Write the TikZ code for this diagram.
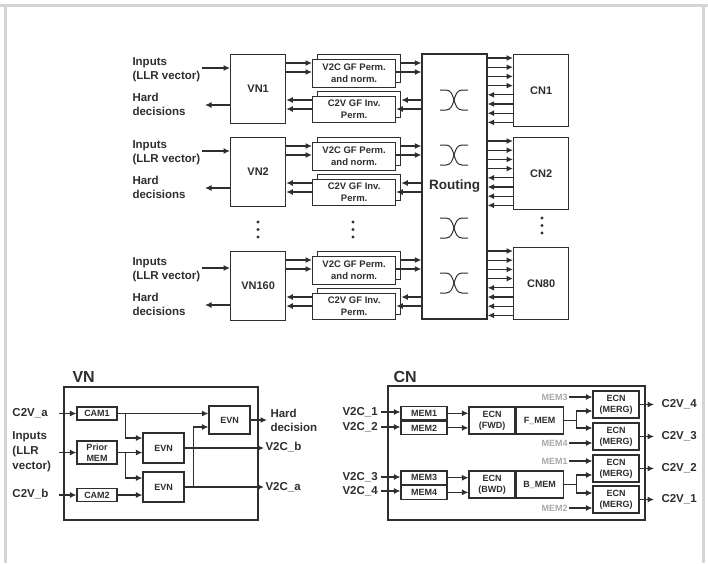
\documentclass[tikz,border=0pt]{standalone}
\usepackage{fontspec}
\setmainfont{Liberation Sans}
\usetikzlibrary{arrows.meta,positioning,calc}
\definecolor{ink}{HTML}{2E2E2E}
\definecolor{rim}{HTML}{D5D5D5}
\definecolor{pale}{HTML}{A9A9A9}

\begin{document}
\begin{tikzpicture}[
    x=1pt, y=-1pt,
    >={Latex[length=6.5pt,width=6pt]},
    color=ink, line width=1pt,
    wire/.style={->, draw=ink, line width=1.2pt},
    box/.style={draw=ink, line width=1.3pt, fill=white, inner sep=0pt, align=center,
                font=\bfseries\fontsize{11}{13}\selectfont},
    perm/.style={box, minimum width=83pt, font=\bfseries\fontsize{9.5}{12}\selectfont},
    small/.style={box, line width=1.1pt, font=\bfseries\fontsize{9}{11}\selectfont},
    frame/.style={draw=ink, line width=2pt, inner sep=0pt},
    lbl/.style={font=\bfseries\fontsize{11.5}{14}\selectfont, align=left, inner sep=1pt},
    title/.style={font=\bfseries\fontsize{16}{18}\selectfont, inner sep=0pt},
    ghost/.style={text=pale, font=\bfseries\fontsize{9}{11}\selectfont, inner sep=1pt}
  ]
  \useasboundingbox (0,0) rectangle (708,563);

  %% grey rim of the figure
  \draw[rim, line width=3.5pt] (0,5.5) -- (708,5.5);
  \draw[rim, line width=3.5pt] (5.3,5.5) -- (5.3,563);
  \draw[rim, line width=3.5pt] (703.5,5.5) -- (703.5,563);

  %% Routing network
  \node (routing) [box, minimum width=65pt, minimum height=265pt,
                   font=\bfseries\fontsize{13.5}{15}\selectfont] at (454.5,186.5) {Routing};
  \foreach \y in {100,155,228,283}{
    \draw (440,\y-10) -- (446,\y-10) to[out=0,in=180] (462,\y+10) -- (468,\y+10);
    \draw (440,\y+10) -- (446,\y+10) to[out=0,in=180] (462,\y-10) -- (468,\y-10);
  }

  %% Variable node rows with permutation blocks
  \foreach \r/\t/\l/\n in {1/54/0/VN1, 2/137/0/VN2, 3/251/3/VN160}{
    \node (vn\r) [box, minimum width=55pt, minimum height=69pt, anchor=north west] at (230,\t) {\n};
    \node (v2cb\r) [perm, minimum height=28pt, anchor=north west] at (317,\t) {};
    \node (v2c\r)  [perm, minimum height=28pt, anchor=north west] at (312,\t+5) {V2C GF Perm.\\and norm.};
    \node (c2vb\r) [perm, minimum height=26pt, anchor=north west] at (317,\t+37) {};
    \node (c2v\r)  [perm, minimum height=26pt, anchor=north west] at (312,\t+42) {C2V GF Inv.\\Perm.};
    \node (inp\r) [lbl, anchor=west] at (131,\t+16+\l)   {Inputs\\(LLR vector)};
    \node (hd\r)  [lbl, anchor=west] at (131,\t+50.5+\l) {Hard\\decisions};
    \coordinate (ini\r) at (202,\t+14+\l);
    \coordinate (hdo\r) at (205,\t+51+\l);
    \draw[wire] (ini\r) -- (ini\r -| vn\r.west);
    \draw[wire] (vn\r.west |- hdo\r) -- (hdo\r);
    \draw[wire] (vn\r.east |- 0,\t+9)  -- (v2c\r.west |- 0,\t+9);
    \draw[wire] (vn\r.east |- 0,\t+18) -- (v2c\r.west |- 0,\t+18);
    \draw[wire] (v2cb\r.east |- 0,\t+9) -- (routing.west |- 0,\t+9);
    \draw[wire] (v2c\r.east |- 0,\t+18) -- (routing.west |- 0,\t+18);
    \draw[wire] (routing.west |- 0,\t+46) -- (c2vb\r.east |- 0,\t+46);
    \draw[wire] (routing.west |- 0,\t+55) -- (c2v\r.east |- 0,\t+55);
    \draw[wire] (c2v\r.west |- 0,\t+46) -- (vn\r.east |- 0,\t+46);
    \draw[wire] (c2v\r.west |- 0,\t+55) -- (vn\r.east |- 0,\t+55);
  }

  %% Check node column
  \foreach \c/\t/\n in {1/54/CN1, 2/137/CN2, 3/247/CN80}{
    \node (cn\c) [box, minimum width=55pt, minimum height=72pt, anchor=north west] at (513,\t) {\n};
    \foreach \k in {0,...,3}
      \draw[wire] (routing.east |- 0,\t+4+9.2*\k) -- (cn\c.west |- 0,\t+4+9.2*\k);
    \foreach \k in {4,...,7}
      \draw[wire] (cn\c.west |- 0,\t+4+9.2*\k) -- (routing.east |- 0,\t+4+9.2*\k);
  }

  %% vertical dots
  \foreach \x/\y in {258/222, 353/222, 542/218}
    \foreach \d in {0,7.5,15}
      \fill (\x,\y+\d) circle[radius=1.6pt];

  %% VN detail
  \node (vnt)   [title, anchor=west] at (72,377) {VN};
  \node (vnblk) [frame, minimum width=194pt, minimum height=133pt, anchor=north west] at (63,386) {};
  \node (cam1)  [small, minimum width=40pt, minimum height=13pt] at (97,413.5) {CAM1};
  \node (prior) [small, minimum width=40pt, minimum height=23pt] at (97,452.5) {Prior\\MEM};
  \node (cam2)  [small, minimum width=40pt, minimum height=13pt] at (97,495) {CAM2};
  \node (evnT)  [small, minimum width=41pt, minimum height=28pt] at (229.5,420) {EVN};
  \node (evnM)  [small, minimum width=41pt, minimum height=30pt] at (163.5,448) {EVN};
  \node (evnB)  [small, minimum width=41pt, minimum height=30pt] at (163.5,487) {EVN};

  \node (inA)   [lbl, anchor=west] at (11,413) {C2V\_a};
  \node (inLLR) [lbl, anchor=west, font=\bfseries\fontsize{11.5}{15}\selectfont] at (11,452) {Inputs\\(LLR\\vector)};
  \node (inB)   [lbl, anchor=west] at (11,494) {C2V\_b};
  \node (hdec)  [lbl, anchor=west] at (269,420) {Hard\\decision};
  \node (outB)  [lbl, anchor=west] at (264,447) {V2C\_b};
  \node (outA)  [lbl, anchor=west] at (264,487) {V2C\_a};

  \coordinate (ta) at (59,413.5);
  \coordinate (tl) at (59,452.5);
  \coordinate (tb) at (59,495);
  \draw[wire] (ta) -- (cam1);
  \draw[wire] (tl) -- (prior);
  \draw[wire] (tb) -- (cam2);
  \draw[wire] (cam1) -- (cam1 -| evnT.west);
  \draw[wire] ([xshift=8pt]cam1.east) |- ([yshift=10pt]evnM.west);
  \draw[wire] (prior) -- (prior -| evnM.west);
  \draw[wire] ([xshift=8pt]prior.east) |- ([yshift=9pt]evnB.west);
  \draw[wire] (cam2) -- (cam2 -| evnB.west);
  \draw[wire] (evnM) -- (evnM -| outB.west);
  \draw[wire] (evnB) -- (evnB -| outA.west);
  \draw[wire] ([xshift=9pt]evnB.east) |- ([yshift=-7pt]evnT.west);
  \draw[wire] (evnT) -- ($(evnT -| hdec.west)+(-2,0)$);

  %% CN detail
  \node (cnt)   [title, anchor=west] at (393,377) {CN};
  \node (cnblk) [frame, minimum width=257pt, minimum height=134pt, anchor=north west] at (387,385) {};
  \node (mem1) [small, minimum width=46pt, minimum height=13.5pt] at (424,413.25) {MEM1};
  \node (mem2) [small, minimum width=46pt, minimum height=13.5pt, below=0pt of mem1] {MEM2};
  \node (mem3) [small, minimum width=46pt, minimum height=13.5pt] at (424,477.75) {MEM3};
  \node (mem4) [small, minimum width=46pt, minimum height=13.5pt, below=0pt of mem3] {MEM4};
  \node (ecnF) [small, minimum width=46pt, minimum height=27pt] at (492,420.5) {ECN\\(FWD)};
  \node (fmem) [small, minimum width=47pt, minimum height=27pt, right=0pt of ecnF] {F\_MEM};
  \node (ecnB) [small, minimum width=46pt, minimum height=27pt] at (492,484.5) {ECN\\(BWD)};
  \node (bmem) [small, minimum width=47pt, minimum height=27pt, right=0pt of ecnB] {B\_MEM};
  \foreach \m/\y in {1/404.5, 2/436.5, 3/468.5, 4/499.5}
    \node (mg\m) [small, minimum width=46pt, minimum height=27pt] at (616,\y) {ECN\\(MERG)};

  \foreach \i/\y in {1/412, 2/427, 3/477, 4/491}{
    \node (vi\i) [lbl, anchor=west] at (341,\y) {V2C\_\i};
    \coordinate (si\i) at (381,\y);
    \draw[wire] (si\i) -- (mem\i.west |- si\i);
  }
  \draw[wire] (mem1) -- (mem1 -| ecnF.west);
  \draw[wire] (mem2) -- (mem2 -| ecnF.west);
  \draw[wire] (mem3) -- (mem3 -| ecnB.west);
  \draw[wire] (mem4) -- (mem4 -| ecnB.west);

  \coordinate (fj) at ([xshift=13pt]fmem.east);
  \coordinate (bj) at ([xshift=13pt]bmem.east);
  \draw[line width=1.2pt] (fmem.east) -- (fj);
  \draw[line width=1.2pt] (bmem.east) -- (bj);
  \draw[wire] (fj) |- ([yshift=-6.5pt]mg1.west);
  \draw[wire] (fj) |- ([yshift=8.5pt]mg2.west);
  \draw[wire] (bj) |- ([yshift=-6.5pt]mg3.west);
  \draw[wire] (bj) |- ([yshift=6.5pt]mg4.west);

  \foreach \g/\m/\y in {3/1/397, 4/2/443, 1/3/461, 2/4/508}{
    \node (gh\g) [ghost, anchor=east] at (569,\y) {MEM\g};
    \draw[wire] (gh\g.east) -- (gh\g.east -| mg\m.west);
  }
  \foreach \m/\o in {1/4, 2/3, 3/2, 4/1}{
    \node (co\o) [lbl, anchor=west] at (660,0 |- mg\m) {C2V\_\o};
    \draw[wire] (mg\m) -- ($(mg\m -| co\o.west)+(-6,0)$);
  }

\end{tikzpicture}
\end{document}
